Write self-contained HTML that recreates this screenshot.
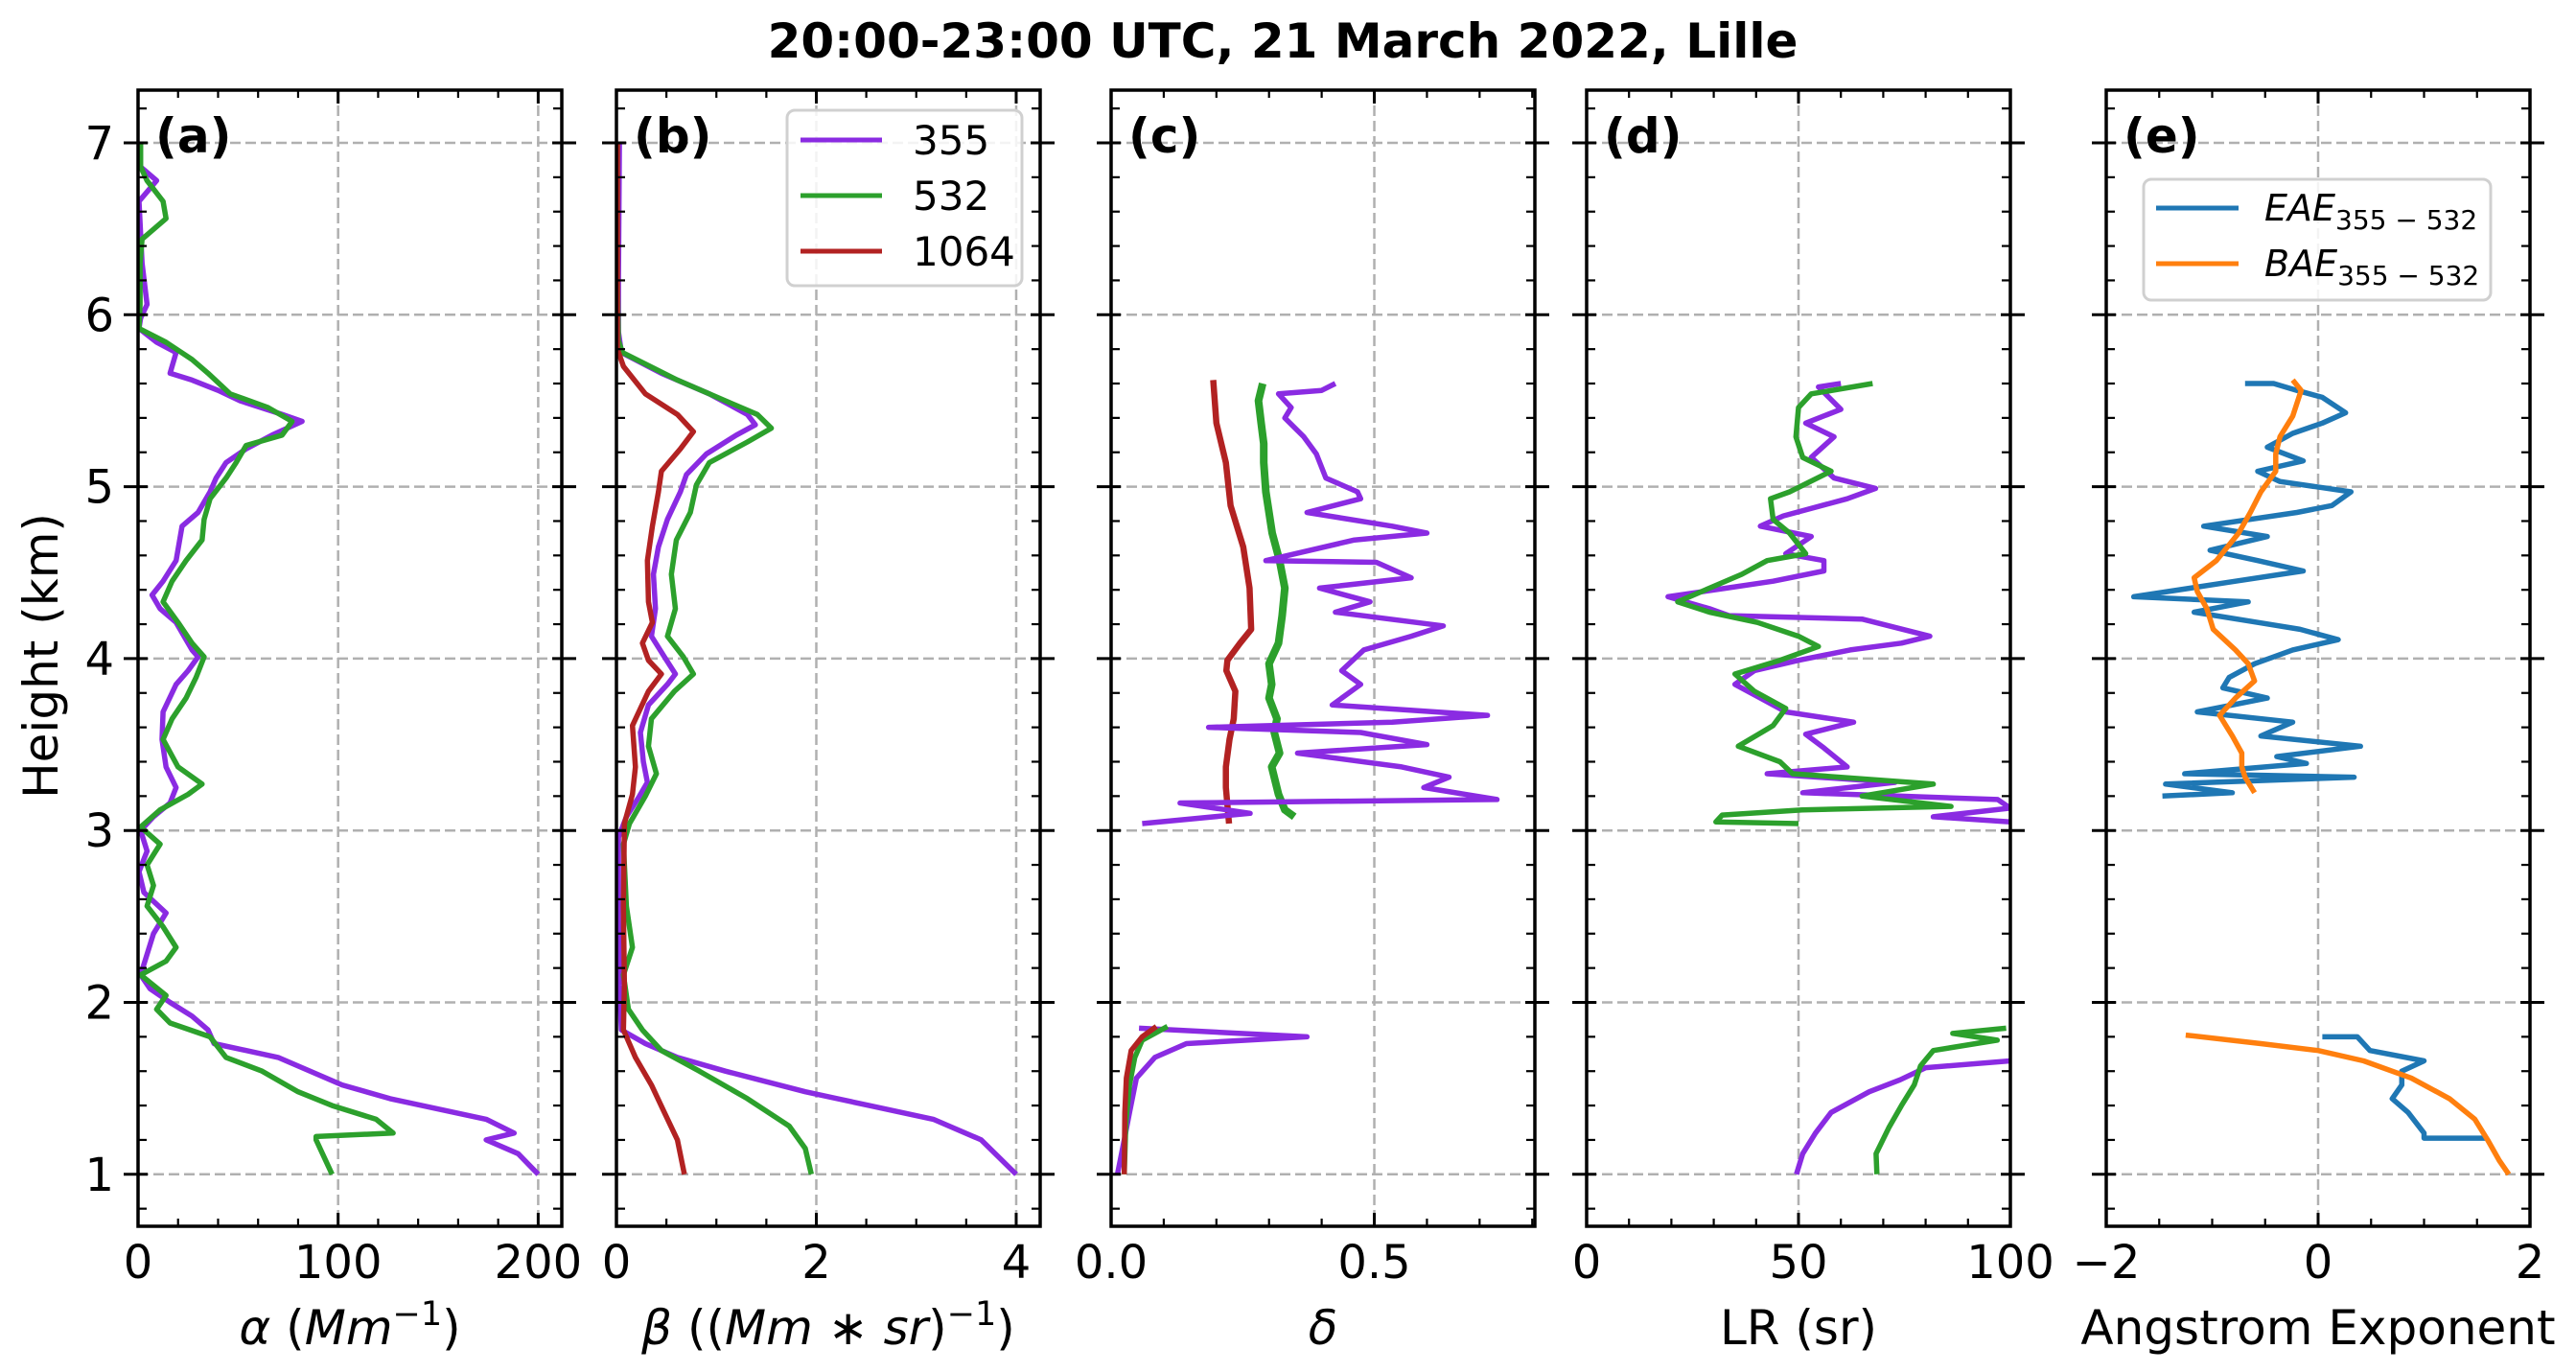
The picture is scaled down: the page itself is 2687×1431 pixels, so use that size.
<!DOCTYPE html>
<html><head><meta charset="utf-8"><style>
html,body{margin:0;padding:0;background:#fff;}
svg{display:block;font-family:"DejaVu Sans","Liberation Sans",sans-serif;}
</style></head><body>
<svg id="fig" width="2687" height="1431" viewBox="0 0 2687 1431" xmlns="http://www.w3.org/2000/svg">
<text x="1338" y="60" text-anchor="middle" font-size="50" font-weight="bold">20:00-23:00 UTC, 21 March 2022, Lille</text>
<text transform="translate(60,684) rotate(-90)" text-anchor="middle" font-size="50">Height (km)</text>
<g id="layer"></g>
</svg>
<script>
// ---- panel (a) extinction ----
const aH355=[6.86,6.78,6.66,6.30,6.06,5.98,5.92,5.84,5.78,5.66,5.62,5.56,5.50,5.42,5.38,5.30,5.22,5.14,5.05,4.97,4.85,4.77,4.57,4.45,4.37,4.29,4.21,4.05,4.01,3.93,3.85,3.69,3.53,3.37,3.25,3.16,3.08,3.00,2.88,2.76,2.64,2.52,2.40,2.28,2.16,2.08,2.00,1.92,1.84,1.76,1.68,1.52,1.44,1.32,1.24,1.20,1.12,1.00];
const aV355=[1.3,9.3,0.5,2,4.5,1.3,0.5,9.3,19,16,27,40,51,72,82,67,54,44,39,36,30,22,19,12.5,7,11,19,27,30,25,19,12.5,12,14,19,16,7.7,1.3,4.5,0.5,2.9,14,7.7,4.5,1.3,6,16,27,35,38,70,102,126,174,188,174,190,200];
const aH532=[7.00,6.86,6.78,6.66,6.56,6.44,6.30,6.06,5.92,5.84,5.74,5.66,5.54,5.46,5.38,5.30,5.24,5.14,5.05,4.93,4.81,4.69,4.57,4.45,4.33,4.21,4.09,4.01,3.89,3.77,3.65,3.53,3.37,3.27,3.21,3.12,3.02,2.92,2.80,2.68,2.56,2.44,2.32,2.24,2.16,2.04,1.96,1.88,1.80,1.68,1.60,1.48,1.40,1.32,1.24,1.22,1.20,1.00];
const aV532=[1.3,1.3,4.5,12.5,14,2,1,1,0.5,14,27,35,46,65,77,72,54,49,44,36,33,32,24,17,12.5,20,27,33,29,24,17,12.5,20,32,25,11,1.3,11,4.5,7.7,4.5,12.5,19,14,1.3,14,9.3,16,36,44,62,80,97,119,127.5,89,89,97];
// ---- panel (b) backscatter ----
const bH355=[7.0,6.2,5.90,5.78,5.66,5.54,5.42,5.36,5.30,5.19,5.07,4.97,4.81,4.65,4.49,4.29,4.13,4.01,3.91,3.85,3.73,3.57,3.40,3.28,3.20,3.08,2.96,2.50,2.10,1.84,1.76,1.68,1.60,1.48,1.40,1.32,1.20,1.00];
const bV355=[0.03,0.02,0.02,0.05,0.45,0.93,1.31,1.39,1.2,0.9,0.7,0.64,0.51,0.42,0.37,0.39,0.35,0.48,0.59,0.51,0.32,0.24,0.27,0.31,0.23,0.10,0.02,0.02,0.03,0.05,0.29,0.61,1.09,1.89,2.53,3.17,3.65,4.0];
const bH532=[7.0,6.2,5.85,5.78,5.62,5.50,5.42,5.34,5.26,5.14,5.01,4.85,4.69,4.49,4.29,4.13,4.01,3.91,3.81,3.65,3.49,3.33,3.20,3.04,2.92,2.56,2.32,2.16,1.96,1.84,1.72,1.60,1.44,1.28,1.15,1.00];
const bV532=[0.01,0.01,0.02,0.06,0.61,1.09,1.41,1.55,1.31,0.93,0.8,0.74,0.6,0.55,0.59,0.51,0.67,0.77,0.58,0.35,0.32,0.4,0.29,0.13,0.07,0.1,0.16,0.07,0.12,0.26,0.45,0.83,1.31,1.73,1.89,1.95];
const bH1064=[7.0,6.2,5.80,5.70,5.54,5.42,5.32,5.22,5.09,4.97,4.77,4.57,4.33,4.21,4.09,3.99,3.91,3.81,3.61,3.37,3.21,3.04,2.56,2.10,1.84,1.68,1.52,1.36,1.20,1.00];
const bV1064=[0.01,0.01,0.01,0.07,0.29,0.61,0.77,0.64,0.45,0.42,0.36,0.31,0.32,0.36,0.26,0.32,0.45,0.32,0.16,0.19,0.16,0.08,0.07,0.08,0.07,0.19,0.35,0.48,0.61,0.68];
// ---- panel (c) depolarization ----
const cHup355=[5.60,5.56,5.54,5.46,5.40,5.29,5.19,5.05,4.97,4.93,4.85,4.77,4.73,4.69,4.57,4.56,4.47,4.41,4.33,4.27,4.19,4.13,4.05,3.93,3.85,3.73,3.67,3.63,3.60,3.57,3.50,3.45,3.37,3.31,3.25,3.18,3.16,3.10,3.04];
const cVup355=[0.426,0.40,0.318,0.342,0.33,0.366,0.39,0.408,0.468,0.474,0.372,0.534,0.60,0.462,0.294,0.504,0.57,0.396,0.492,0.426,0.631,0.57,0.48,0.438,0.474,0.42,0.715,0.534,0.185,0.474,0.60,0.354,0.552,0.642,0.594,0.733,0.131,0.264,0.059];
const cHlo355=[1.85,1.80,1.76,1.68,1.56,1.36,1.20,1.00];
const cVlo355=[0.053,0.372,0.143,0.083,0.048,0.035,0.025,0.012];
const cHup532=[5.60,5.50,5.37,5.25,5.14,4.97,4.85,4.73,4.57,4.41,4.25,4.09,3.97,3.85,3.77,3.65,3.57,3.45,3.37,3.21,3.12,3.08];
const cVup532=[0.288,0.28,0.285,0.29,0.29,0.294,0.30,0.306,0.32,0.33,0.325,0.318,0.30,0.305,0.30,0.315,0.31,0.32,0.305,0.318,0.33,0.348];
const cHlo532=[1.86,1.78,1.68,1.52,1.30,1.00];
const cVlo532=[0.107,0.059,0.045,0.035,0.028,0.025];
const cHup1064=[5.62,5.37,5.14,4.89,4.65,4.41,4.17,4.09,3.99,3.93,3.81,3.65,3.53,3.37,3.25,3.04];
const cVup1064=[0.194,0.20,0.218,0.227,0.251,0.263,0.266,0.245,0.221,0.219,0.236,0.233,0.225,0.218,0.218,0.224];
const cHlo1064=[1.86,1.80,1.72,1.56,1.36,1.00];
const cVlo1064=[0.086,0.059,0.038,0.029,0.026,0.025];
// ---- panel (d) lidar ratio ----
const dHup355=[5.60,5.58,5.45,5.37,5.29,5.17,5.05,4.99,4.93,4.83,4.77,4.71,4.61,4.57,4.51,4.45,4.41,4.36,4.29,4.25,4.23,4.13,4.09,4.05,3.99,3.93,3.85,3.77,3.69,3.63,3.56,3.48,3.37,3.33,3.28,3.22,3.18,3.13,3.08,3.05];
const dVup355=[60,54.7,60,51.7,58.4,53,58.4,68.2,61.5,46.4,41,53,47,56,56,44,33,19.2,29,33.6,65,81,74.3,62.2,50,39.6,35,41,47,63,51.7,56,61.5,42.6,72.8,51,97,100,81.8,100];
const dHlo355=[1.66,1.62,1.55,1.48,1.36,1.24,1.12,1.00];
const dVlo355=[100,80,74,66.7,57.7,54,51,49.5];
const dHup532=[5.60,5.54,5.46,5.29,5.17,5.09,4.97,4.93,4.81,4.73,4.61,4.57,4.49,4.41,4.33,4.27,4.21,4.13,4.07,3.99,3.91,3.81,3.71,3.61,3.49,3.40,3.33,3.27,3.20,3.14,3.12,3.09,3.05,3.04];
const dVup532=[67.5,53,50,49.4,51,57.7,47.9,43.4,44,47.9,51.7,42.6,36.6,29,21.5,29,40.3,50,54.7,45.6,35,39.6,47,44,35.8,45.6,48.6,81.8,65,86,50.9,32,30.5,50];
const dHlo532=[1.85,1.82,1.78,1.72,1.63,1.52,1.40,1.27,1.12,1.00];
const dVlo532=[99,86.4,96.9,81.8,78.8,77.3,74.3,71.3,68.3,68.5];
// ---- panel (e) Angstrom exponents ----
const eHupEAE=[5.60,5.60,5.56,5.52,5.43,5.37,5.31,5.23,5.15,5.09,5.03,4.97,4.89,4.85,4.77,4.71,4.63,4.57,4.51,4.45,4.36,4.33,4.27,4.21,4.17,4.11,4.05,3.97,3.89,3.83,3.77,3.69,3.63,3.55,3.49,3.43,3.39,3.33,3.31,3.27,3.22,3.20];
const eVupEAE=[-0.69,-0.42,-0.2,0.04,0.26,0.04,-0.24,-0.48,-0.14,-0.57,-0.36,0.31,0.13,-0.2,-1.08,-0.48,-1.02,-0.57,-0.14,-0.78,-1.74,-0.66,-1.17,-0.57,-0.17,0.19,-0.24,-0.6,-0.84,-0.9,-0.48,-1.14,-0.24,-0.54,0.4,-0.39,-0.11,-1.26,0.34,-1.44,-0.81,-1.47];
const eHloEAE=[1.80,1.80,1.72,1.66,1.60,1.52,1.44,1.36,1.24,1.21,1.21];
const eVloEAE=[0.04,0.37,0.49,1.0,0.79,0.79,0.7,0.85,1.0,1.0,1.6];
const eHupBAE=[5.62,5.56,5.41,5.29,5.19,5.09,4.97,4.85,4.73,4.57,4.47,4.39,4.29,4.17,4.05,3.97,3.87,3.77,3.67,3.55,3.45,3.37,3.31,3.22];
const eVupBAE=[-0.24,-0.16,-0.24,-0.36,-0.40,-0.40,-0.54,-0.64,-0.75,-0.96,-1.17,-1.14,-1.05,-0.99,-0.78,-0.66,-0.60,-0.78,-0.93,-0.81,-0.72,-0.72,-0.69,-0.60];
const eHloBAE=[1.81,1.76,1.72,1.66,1.56,1.44,1.32,1.20,1.08,1.00];
const eVloBAE=[-1.25,-0.54,0,0.43,0.88,1.24,1.48,1.6,1.71,1.8];
// tick label arrays
const yTicks=[1,2,3,4,5,6,7];
const aTicks=["0","100","200"], bTicks=["0","2","4"], cTicks=["0.0","0.5"], dTicks=["0","50","100"], eTicks=["\u22122","0","2"];

const NS="http://www.w3.org/2000/svg";
const layer=document.getElementById('layer');
const YTOP=94, YBOT=1279;
function Y(h){return 149+(7-h)*179.3;}
function mk(tag,attrs,parent){const e=document.createElementNS(NS,tag);for(const k in attrs)e.setAttribute(k,attrs[k]);(parent||layer).appendChild(e);return e;}
const C={p:'#8a2be2',g:'#2ca02c',r:'#b22222',b:'#1f77b4',o:'#ff7f0e'};

const panels=[
 {id:'a',x0:144,x1:586,min:0,max:211.8,majors:[0,100,200],labels:aTicks,minor:20},
 {id:'b',x0:643,x1:1085,min:0,max:4.24,majors:[0,2,4],labels:bTicks,minor:0.5},
 {id:'c',x0:1159,x1:1601,min:0,max:0.805,majors:[0,0.5],labels:cTicks,minor:0.1},
 {id:'d',x0:1655,x1:2097,min:0,max:100,majors:[0,50,100],labels:dTicks,minor:10},
 {id:'e',x0:2197,x1:2639,min:-2,max:2,majors:[-2,0,2],labels:eTicks,minor:0.5}
];
panels.forEach(p=>{p.X=v=>p.x0+(v-p.min)/(p.max-p.min)*(p.x1-p.x0);});

panels.forEach((p,pi)=>{
  const g=mk('g',{});
  
  
  p.g=g;
  yTicks.forEach(h=>{const l=mk('line',{x1:p.x0,x2:p.x1,y1:Y(h),y2:Y(h),stroke:'#b0b0b0','stroke-width':2.5,'stroke-dasharray':'11,5'},g);
    
    });
  p.majors.forEach(v=>{const l=mk('line',{x1:p.X(v),x2:p.X(v),y1:YTOP,y2:YBOT,stroke:'#b0b0b0','stroke-width':2.5,'stroke-dasharray':'11,5'},g);
    
    });
  p.clip='clip'+p.id;
  const cp=mk('clipPath',{id:p.clip},g);mk('rect',{x:p.x0,y:YTOP,width:p.x1-p.x0,height:YBOT-YTOP},cp);
});

function series(p,H,V,col,name,w){
  const pts=H.map((h,i)=>p.X(V[i]).toFixed(1)+','+Y(h).toFixed(1)).join(' ');
  const l=mk('polyline',{points:pts,fill:'none',stroke:col,'stroke-width':w||5.5,'stroke-linejoin':'round','clip-path':'url(#'+p.clip+')'},p.g);
  
  
}
const [A,B,Cc,D,E]=panels;
series(A,aH355,aV355,C.p,'alpha-355-line');series(A,aH532,aV532,C.g,'alpha-532-line');
series(B,bH355,bV355,C.p,'beta-355-line');series(B,bH532,bV532,C.g,'beta-532-line');series(B,bH1064,bV1064,C.r,'beta-1064-line');
series(Cc,cHup1064,cVup1064,C.r,'delta-1064-upper-line',6.5);series(Cc,cHup532,cVup532,C.g,'delta-532-upper-line',8);series(Cc,cHup355,cVup355,C.p,'delta-355-upper-line');
series(Cc,cHlo355,cVlo355,C.p,'delta-355-lower-line');series(Cc,cHlo532,cVlo532,C.g,'delta-532-lower-line');series(Cc,cHlo1064,cVlo1064,C.r,'delta-1064-lower-line');
series(D,dHup355,dVup355,C.p,'lr-355-upper-line');series(D,dHup532,dVup532,C.g,'lr-532-upper-line');
series(D,dHlo355,dVlo355,C.p,'lr-355-lower-line');series(D,dHlo532,dVlo532,C.g,'lr-532-lower-line');
series(E,eHupEAE,eVupEAE,C.b,'eae-upper-line');series(E,eHloEAE,eVloEAE,C.b,'eae-lower-line');
series(E,eHupBAE,eVupBAE,C.o,'bae-upper-line');series(E,eHloBAE,eVloBAE,C.o,'bae-lower-line');

panels.forEach((p,pi)=>{
  const g=p.g;
  for(let k=0;k<=33;k++){const h=0.8+k*0.2; if(h>7.3)break; const y=Y(h); const major=Math.abs(h-Math.round(h))<0.01;
    if(major){mk('line',{x1:p.x0-15,x2:p.x0+10,y1:y,y2:y,stroke:'#000','stroke-width':3},g);mk('line',{x1:p.x1-10,x2:p.x1+15,y1:y,y2:y,stroke:'#000','stroke-width':3},g);}
    else{mk('line',{x1:p.x0,x2:p.x0+9,y1:y,y2:y,stroke:'#000','stroke-width':2.2},g);mk('line',{x1:p.x1-9,x2:p.x1,y1:y,y2:y,stroke:'#000','stroke-width':2.2},g);}
  }
  for(let v=p.min;v<=p.max+1e-9;v+=p.minor){const x=p.X(v);const major=p.majors.some(m=>Math.abs(m-v)<1e-6);const L=major?14:8;
    mk('line',{x1:x,x2:x,y1:YBOT,y2:YBOT-L,stroke:'#000','stroke-width':major?3:2.2},g);mk('line',{x1:x,x2:x,y1:YTOP,y2:YTOP+L,stroke:'#000','stroke-width':major?3:2.2},g);}
  p.majors.forEach((v,i)=>{const t=mk('text',{x:p.X(v),y:1333,'text-anchor':'middle','font-size':48},g);t.textContent=p.labels[i];
    
    });
  mk('rect',{x:p.x0,y:YTOP,width:p.x1-p.x0,height:YBOT-YTOP,fill:'none',stroke:'#000','stroke-width':3.5},g);
  const pl=mk('text',{x:p.x0+18,y:159,'font-size':50,'font-weight':'bold'},g);pl.textContent='('+p.id+')';
  
  
});
yTicks.forEach(h=>{const t=mk('text',{x:119,y:Y(h)+17,'text-anchor':'end','font-size':48});t.textContent=String(h);
  
  });
</script>
<script>
(function(){
const NS="http://www.w3.org/2000/svg";const svg=document.getElementById('fig');
function add(html){const g=document.createElementNS(NS,'g');g.innerHTML=html;svg.appendChild(g);return g;}
add(`<text x="365" y="1402" text-anchor="middle" font-size="50"><tspan font-style="italic">α</tspan> (<tspan font-style="italic">Mm</tspan><tspan dy="-20" font-size="35">−1</tspan><tspan dy="20">)</tspan></text>
<text x="864" y="1402" text-anchor="middle" font-size="50"><tspan font-style="italic">β</tspan> ((<tspan font-style="italic">Mm</tspan> ∗ <tspan font-style="italic">sr</tspan>)<tspan dy="-20" font-size="35">−1</tspan><tspan dy="20">)</tspan></text>
<text x="1380" y="1402" text-anchor="middle" font-size="50" font-style="italic">δ</text>
<text x="1876" y="1402" text-anchor="middle" font-size="50">LR (sr)</text>
<text x="2418" y="1402" text-anchor="middle" font-size="50">Angstrom Exponent</text>
<g>
<rect x="821" y="115" width="245" height="183" rx="8" fill="#fff" fill-opacity="0.85" stroke="#d0d0d0" stroke-width="3"/>
<line x1="835" x2="920" y1="146" y2="146" stroke="#8a2be2" stroke-width="5"/>
<text x="952" y="161" font-size="42">355</text>
<line x1="835" x2="920" y1="204" y2="204" stroke="#2ca02c" stroke-width="5"/>
<text x="952" y="219" font-size="42">532</text>
<line x1="835" x2="920" y1="262" y2="262" stroke="#b22222" stroke-width="5"/>
<text x="952" y="277" font-size="42">1064</text>
</g>
<g>
<rect x="2236" y="187" width="362" height="126" rx="8" fill="#fff" fill-opacity="0.85" stroke="#d0d0d0" stroke-width="3"/>
<line x1="2249" x2="2335" y1="217" y2="217" stroke="#1f77b4" stroke-width="5"/>
<text x="2362" y="230" font-size="38"><tspan font-style="italic">EAE</tspan><tspan dy="9" font-size="28">355 − 532</tspan></text>
<line x1="2249" x2="2335" y1="275" y2="275" stroke="#ff7f0e" stroke-width="5"/>
<text x="2362" y="288" font-size="38"><tspan font-style="italic">BAE</tspan><tspan dy="9" font-size="28">355 − 532</tspan></text>
</g>`);
})();
</script>
</body></html>
